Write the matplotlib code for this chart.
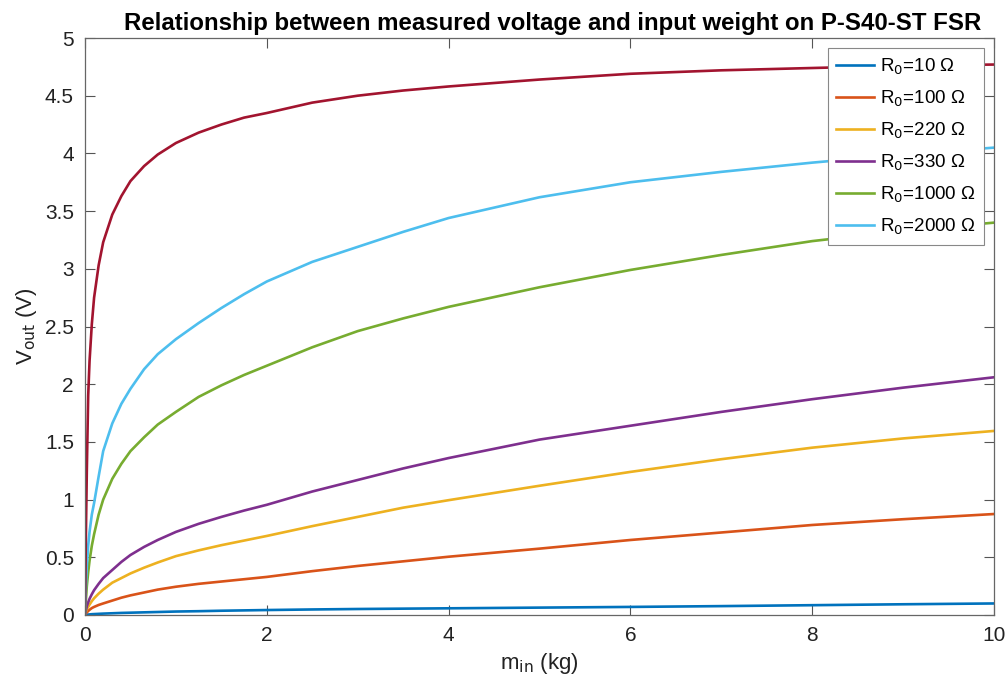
import numpy as np
import matplotlib
matplotlib.use("Agg")
import matplotlib.pyplot as plt

plt.rcParams['font.family'] = ['Liberation Sans', 'DejaVu Sans']

m_in = [0, 0.01, 0.02, 0.035, 0.05, 0.075, 0.1, 0.15, 0.2, 0.3, 0.4, 0.5, 0.65, 0.8,
        1, 1.25, 1.5, 1.75, 2, 2.5, 3, 3.5, 4, 5, 6, 7, 8, 9, 10]

# measured output voltage (V) for each divider resistor
v_10 = [0, 0.001, 0.003, 0.004, 0.005, 0.007, 0.008, 0.010, 0.012, 0.015, 0.018, 0.020,
        0.023, 0.026, 0.030, 0.033, 0.037, 0.040, 0.043, 0.048, 0.052, 0.055, 0.058,
        0.064, 0.070, 0.077, 0.085, 0.093, 0.100]
v_100 = [0, 0.012, 0.022, 0.035, 0.045, 0.06, 0.07, 0.087, 0.10, 0.125, 0.15, 0.17,
         0.195, 0.22, 0.245, 0.27, 0.29, 0.31, 0.33, 0.38, 0.425, 0.465, 0.505,
         0.575, 0.65, 0.715, 0.78, 0.83, 0.875]
v_220 = [0, 0.025, 0.05, 0.07, 0.09, 0.12, 0.145, 0.185, 0.22, 0.28, 0.32, 0.36,
         0.41, 0.455, 0.51, 0.56, 0.605, 0.645, 0.685, 0.77, 0.85, 0.93, 0.995,
         1.12, 1.24, 1.35, 1.45, 1.53, 1.595]
v_330 = [0, 0.04, 0.075, 0.11, 0.14, 0.18, 0.215, 0.27, 0.32, 0.39, 0.46, 0.52,
         0.59, 0.65, 0.72, 0.79, 0.85, 0.905, 0.955, 1.07, 1.17, 1.27, 1.36,
         1.52, 1.64, 1.76, 1.87, 1.97, 2.06]
v_1000 = [0, 0.13, 0.25, 0.37, 0.47, 0.60, 0.70, 0.87, 1.0, 1.18, 1.31, 1.42,
          1.54, 1.65, 1.76, 1.89, 1.99, 2.08, 2.16, 2.32, 2.46, 2.57, 2.67,
          2.84, 2.99, 3.12, 3.24, 3.33, 3.40]
v_2000 = [0, 0.25, 0.42, 0.60, 0.72, 0.87, 0.97, 1.20, 1.42, 1.66, 1.83, 1.96,
          2.13, 2.26, 2.39, 2.53, 2.66, 2.78, 2.89, 3.06, 3.19, 3.32, 3.44,
          3.62, 3.75, 3.84, 3.92, 3.99, 4.05]
v_top = [0, 0.7, 1.25, 1.9, 2.2, 2.52, 2.75, 3.03, 3.23, 3.47, 3.63, 3.76,
         3.89, 3.99, 4.09, 4.18, 4.25, 4.31, 4.35, 4.44, 4.50, 4.545, 4.58,
         4.64, 4.69, 4.72, 4.74, 4.76, 4.77]

labels = ['R$_0$=10 Ω', 'R$_0$=100 Ω', 'R$_0$=220 Ω', 'R$_0$=330 Ω',
          'R$_0$=1000 Ω', 'R$_0$=2000 Ω']
series = [v_10, v_100, v_220, v_330, v_1000, v_2000]
colors = ['#0072BD', '#D95319', '#EDB120', '#7E2F8E', '#77AC30', '#4DBEEE']

fig = plt.figure(figsize=(10.08, 6.84), dpi=100)
ax = fig.add_axes([85 / 1008, 1 - 615 / 684, (994 - 85) / 1008, (615 - 38) / 684])

lines = []
for v, c, lab in zip(series, colors, labels):
    ln, = ax.plot(m_in, v, color=c, lw=1.9, label=lab)
    lines.append(ln)
ax.plot(m_in, v_top, color='#A2142F', lw=1.9)

ax.set_xlim(0, 10)
ax.set_ylim(0, 5)
ax.set_xticks([0, 2, 4, 6, 8, 10])
ax.set_yticks(np.arange(0, 5.01, 0.5))
ax.set_yticklabels(['0', '0.5', '1', '1.5', '2', '2.5', '3', '3.5', '4', '4.5', '5'])
ax.tick_params(direction='in', length=7, width=0.8, color='#555555',
               labelsize=15, top=True, right=True, pad=8, labelcolor='#222222')
for s in ax.spines.values():
    s.set_color('#666666')
    s.set_linewidth(0.9)

ax.set_xlabel('m$_{\\mathrm{in}}$ (kg)', fontsize=16, labelpad=4, color='#222222')
ax.set_ylabel('V$_{\\mathrm{out}}$ (V)', fontsize=16, labelpad=4, color='#222222')

fig.text(553 / 1008, 1 - 30 / 684, 'Relationship between measured voltage and input weight on P-S40-ST FSR',
         ha='center', va='baseline', fontsize=17.3, fontweight='bold')

leg = ax.legend(handles=lines, loc='upper right', fontsize=13.5, fancybox=False,
                framealpha=1, edgecolor='#888888', borderaxespad=0.55,
                handlelength=2.0, labelspacing=0.62, borderpad=0.45, handletextpad=0.3)
leg.get_frame().set_linewidth(0.8)

fig.savefig('out.png', dpi=100)
